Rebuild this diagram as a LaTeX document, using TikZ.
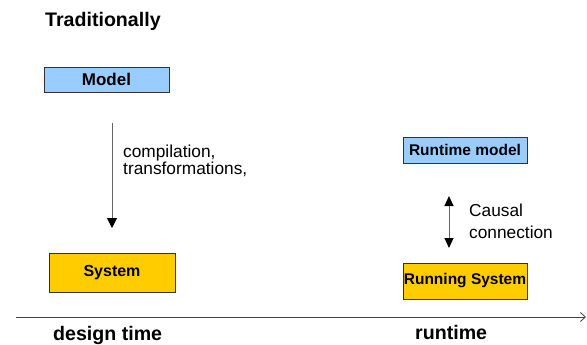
\documentclass[tikz,border=0pt]{standalone}
\usepackage{fontspec}
\setmainfont{Liberation Sans}
\usepackage{xcolor}
\usetikzlibrary{arrows.meta}
\definecolor{mdlblue}{HTML}{99CCFF}
\definecolor{sysyellow}{HTML}{FFCC00}
\tikzset{
  box/.style={rectangle, draw=black!80, line width=0.9pt, inner sep=0pt, font=\fontsize{16}{18}\selectfont\bfseries},
  mdl/.style={box, fill=mdlblue},
  sys/.style={box, fill=sysyellow},
  rt/.style={font=\fontsize{15.5}{18}\selectfont\bfseries},
  heading/.style={font=\fontsize{19.6}{22}\selectfont\bfseries, inner sep=0pt},
  note/.style={align=left, inner sep=0pt},
  flow/.style={draw=black!60, line width=1pt, -{Triangle[length=10pt,width=10pt,color=black]}},
  causal/.style={draw=black!60, line width=1pt, {Triangle[length=10pt,width=9pt,color=black]}-{Triangle[length=10pt,width=9pt,color=black]}},
  timeaxis/.style={draw=black!75, line width=0.8pt, -{Straight Barb[length=5pt,width=9pt]}}
}

\begin{document}
\begin{tikzpicture}[x=1pt, y=-1pt]
  \useasboundingbox (0,0) rectangle (587,345);
  % left: design time
  \node[heading, anchor=base west] (trad) at (45,26.7) {Traditionally};
  \node[mdl, minimum width=125pt, minimum height=25pt, font=\fontsize{17}{18}\selectfont\bfseries] (mdl) at (106.5,79.5) {Model};
  \node[sys, minimum width=126pt, minimum height=39pt] (sys) at (112,272.5) {System};
  \coordinate (cstart) at (112,123);
  \coordinate (cend) at (112,228);
  \draw[flow] (cstart) -- (cend);
  \node[note, anchor=west, font=\fontsize{17.3}{15.5}\selectfont] (comp) at (123,161)
    {compilation,\\transformations,};
  % right: runtime
  \node[mdl, rt, minimum width=124pt, minimum height=26pt] (rtm) at (465,150) {Runtime model};
  \node[sys, rt, minimum width=124pt, minimum height=36pt] (rsys) at (465,281) {Running System};
  \coordinate (ktop) at (449,196);
  \coordinate (kbot) at (449,248);
  \draw[causal] (ktop) -- (kbot);
  \node[note, anchor=west, font=\fontsize{17.3}{21.7}\selectfont] (cc) at (469,221)
    {Causal\\connection};
  % time axis
  \coordinate (ax0) at (16,317);
  \coordinate (ax1) at (586,317);
  \draw[timeaxis] (ax0) -- (ax1);
  \node[heading, anchor=base west] (dt) at (53,340) {design time};
  \node[heading, anchor=base west] (rtl) at (415,339.5) {runtime};
\end{tikzpicture}
\end{document}
